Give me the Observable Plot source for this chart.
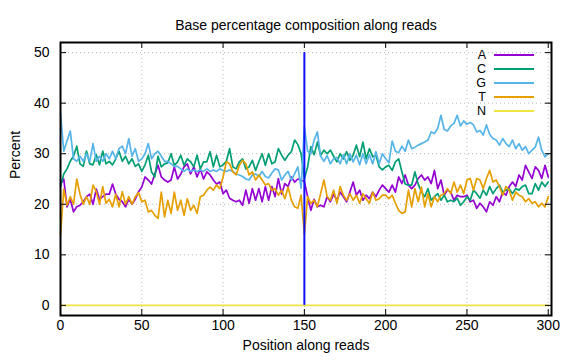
<!DOCTYPE html>
<html><head><meta charset="utf-8">
<script src="https://cdn.jsdelivr.net/npm/d3@7"></script>
<script src="https://cdn.jsdelivr.net/npm/@observablehq/plot@0.6"></script>
<style>
body{margin:0;background:#fff;font-family:"Liberation Sans",Arial,sans-serif;}
#wrap{position:relative;width:576px;height:360px;}
#legend{position:absolute;left:0;top:0;pointer-events:none;}
</style></head><body><div id="wrap"></div>
<script>
const title = "Base percentage composition along reads";
const xLabel = "Position along reads";
const yLabel = "Percent";
const bases = ["A", "C", "G", "T", "N"];
const colors = ["#9400d3", "#009e73", "#56b4e9", "#e69f00", "#f0e442"];
const xTicks = [0, 50, 100, 150, 200, 250, 300];
const yTicks = [0, 10, 20, 30, 40, 50];
const marker = [150];

// positions 0,2,4,...,300
const positions = d3.range(0, 301, 2);

const A = [24,25,19.5,21,18.5,19.5,19.8,20.5,21.5,22,20,23,21,21.5,22,22,24,22,21,20.5,19.5,21,20,21,22.5,23.4,25.4,24.8,24,26,27.7,25.4,24.8,24.4,24.8,27.4,25,26,27.4,28,26,27.4,25.4,27,25,26.4,25.8,24.8,24,24.4,22.1,22.8,21.2,20.8,20.5,20.8,19.8,22.8,20.2,23.1,20.8,23.1,20.5,23.5,20.8,23.5,21.5,25.1,22,24.1,23.5,25.4,24.4,25,24.8,24.5,21.5,18.8,21,19.5,19.8,19.5,21.5,20.5,22,20.8,22.4,21.5,20.5,22.4,24.4,21.8,22.8,20.8,21.8,21.1,22.4,21.5,22.8,23.8,23.1,22.4,23.8,22.4,25.4,24.1,25.8,23.8,23.1,23.8,25.1,25.8,24.8,25.4,24.1,26.7,23.1,24.8,21.8,22.8,22.4,20.8,21.8,21.5,21.5,21.8,20.5,20.8,19.2,20.2,19.5,18.5,20.5,19.8,21.5,20.5,22.4,21.8,23.5,24.4,23.5,25.8,24.8,27.7,26.4,25.1,27.4,26.7,25.1,27.7,25.4];

const C = [23.5,26,27,28.5,29.5,31.5,28,27.5,30.5,28,27.8,29.8,27.8,30.5,28,28.5,27.8,29,30.5,28.5,29.5,28,29,27.5,28,26.5,27.8,29.7,26.4,25.4,29.5,27.4,28,28.2,30,27.7,28.4,29.7,27.7,29,28.4,27.4,29.7,27,28.4,28.4,30.4,27.4,29.7,27.4,27.8,28.5,31,27.4,27,28.4,29,27,27.4,28.7,26.7,28.4,30,27.7,30,28,28.4,31,29.7,28.7,29.7,30.4,32.7,31.8,30,25,27.4,31.4,29.8,32.3,29.7,30.7,30,30.7,29.5,28.4,30,29,30.4,28.7,29.7,31.7,29.4,32.3,29,31,29.4,29.7,27.4,26.8,27.4,27.7,26.7,28.4,29,26.4,24,23.8,23.8,26.4,24,22.5,21.5,23.1,20.8,21.5,22.1,20.8,21.8,20.5,20.8,20.5,21.2,19.8,20.5,21.5,20.8,22.8,22.1,21.2,22.8,21.8,23.5,22.1,23.1,23.8,22.4,22.8,23.1,22.1,23.1,22.8,23.5,23.8,22.1,22.1,24.1,22.8,24.4,23.5,24.4];

const G = [38,30.5,32.5,34.5,29,28.5,29.5,28.5,30,28.5,32,28.5,29.5,28.5,30,29,30.5,29,31,31.5,30,33,29.5,31,28.5,29,30,32,29,30,30.5,29.5,28.5,28.5,28,27.5,27.5,27,26.5,27,26.5,26.8,26.5,26.8,26.5,27,26.5,26.8,26.5,27,26.7,26.5,26.8,26.5,26,25.8,25.5,25,24.8,25.8,26,25.5,26.5,25.5,25.2,26.2,27,26.8,24.8,25.8,26.5,24.8,26,27.4,23.2,35.3,30.5,30,32.7,34.3,29.5,28.5,29.6,28,29,29.3,28,29.8,28,30,28.4,29.7,27.8,30,28,29.8,28,30.4,28,30,29,28.2,32.5,30.5,30.2,31.5,30.5,32.7,31,31.3,31.7,32,32.3,32.7,34.3,34,35,37.6,34.8,34.5,35.5,36,37.6,35.5,36.5,35.8,36.2,35.7,34.3,34.6,33.7,35.7,33.8,33,32.7,31.7,33,32,31.4,32.7,31,32,30.7,31.4,30,30.7,31.3,33.3,30.7,29.4,30];

const T = [14,23,19.8,21.5,20,25,22,20,21.5,20,23.8,22.5,20,23.5,20.2,21,19.5,22,19.5,22.5,20,21.5,20,21.5,22.3,20.5,20.8,18.5,18.8,17.8,17.2,22.4,17.5,20.8,18.2,22.4,18.8,20.8,17.8,21.1,18.8,19.8,18.2,21.5,21.8,22.8,23.4,22.8,23.8,23.1,25.4,28.4,28,26.4,25.8,27.7,28.7,28,25.8,26.4,24.8,25.8,24.8,23.8,24.1,22.8,23.1,21.8,22.8,21.1,23.4,20.8,19.5,19.2,21.8,14,21.5,20.2,20.8,19.5,22.1,24.8,21.5,20.8,22.8,20.2,23.5,21.8,20.8,22.1,20.8,21.8,20.2,22.1,21.1,20.2,22.4,20.8,21.1,21.8,21.8,21.1,21.8,20.2,18.8,18.2,18.5,22.8,19.5,23.1,20.5,23.4,19.5,22.1,19.5,21.5,20.5,21.8,22.1,23.1,22.1,24.4,22.4,23.8,22.1,24.8,25.1,22.8,25.1,24.8,23.1,25.1,26.7,24.4,24.8,23.5,21.8,23.5,22.8,20.8,22.4,21.8,21.5,20.5,21.1,20.2,20.5,19.5,20.2,19.5,21.5];

const nPositions = [0, 300];
const N = [0, 0];

const series = {A, C, G, T};
const rows = [];
["A", "C", "G", "T"].forEach(b => series[b].forEach((v, i) => rows.push({base: b, pos: positions[i], pct: v})));
N.forEach((v, i) => rows.push({base: "N", pos: nPositions[i], pct: v}));

const W = 576, H = 360, mL = 60, mR = 25, mT = 42, mB = 45;
const fw = W - mL - mR, fh = H - mT - mB, tl = 6;
const font = "'Liberation Sans', Arial, sans-serif";

const chart = Plot.plot({
  width: W, height: H,
  marginLeft: mL, marginRight: mR, marginTop: mT, marginBottom: mB,
  style: {fontFamily: font, fontSize: "14px", color: "#000", background: "#fff", overflow: "visible"},
  x: {domain: [0, 302]},
  y: {domain: [-2, 52]},
  color: {domain: bases, range: colors},
  marks: [
    Plot.gridX(xTicks, {stroke: "#b8b8b8", strokeOpacity: 1, strokeDasharray: "1,3", strokeWidth: 1}),
    Plot.gridY(yTicks, {stroke: "#b8b8b8", strokeOpacity: 1, strokeDasharray: "1,3", strokeWidth: 1}),
    Plot.line(rows, {x: "pos", y: "pct", z: "base", stroke: "base", strokeWidth: 1.7}),
    Plot.ruleX(marker, {y1: 0, y2: 50, stroke: "#1010ff", strokeWidth: 2}),
    Plot.tickX(xTicks, {x: d => d, insetTop: fh - tl, stroke: "#000", strokeWidth: 1}),
    Plot.tickX(xTicks, {x: d => d, insetBottom: fh - tl, stroke: "#000", strokeWidth: 1}),
    Plot.tickY(yTicks, {y: d => d, insetRight: fw - tl, stroke: "#000", strokeWidth: 1}),
    Plot.tickY(yTicks, {y: d => d, insetLeft: fw - tl, stroke: "#000", strokeWidth: 1}),
    Plot.frame({stroke: "#000", strokeWidth: 2}),
    Plot.axisX(xTicks, {tickSize: 0, tickPadding: 5, label: null, fontSize: 14}),
    Plot.axisY(yTicks, {tickSize: 0, tickPadding: 11, label: null, fontSize: 14}),
    Plot.text([xLabel], {frameAnchor: "bottom", dy: 34, fontSize: 14}),
    Plot.text([yLabel], {frameAnchor: "left", dx: -45, rotate: -90, fontSize: 14}),
    Plot.text([title], {frameAnchor: "top", dy: -22, fontSize: 14})
  ]
});
const wrap = document.getElementById("wrap");
wrap.appendChild(chart);

// legend overlay (top-right, inside the frame)
const leg = d3.select(wrap).append("svg").attr("id", "legend")
  .attr("width", W).attr("height", H);
bases.forEach((b, i) => {
  const yy = 55 + 14 * i;
  leg.append("text").attr("x", 486).attr("y", yy).attr("dy", "0.35em")
    .attr("text-anchor", "end").attr("font-family", font).attr("font-size", 12.5).text(b);
  leg.append("line").attr("x1", 494).attr("x2", 534).attr("y1", yy).attr("y2", yy)
    .attr("stroke", colors[i]).attr("stroke-width", 2);
});
</script></body></html>
